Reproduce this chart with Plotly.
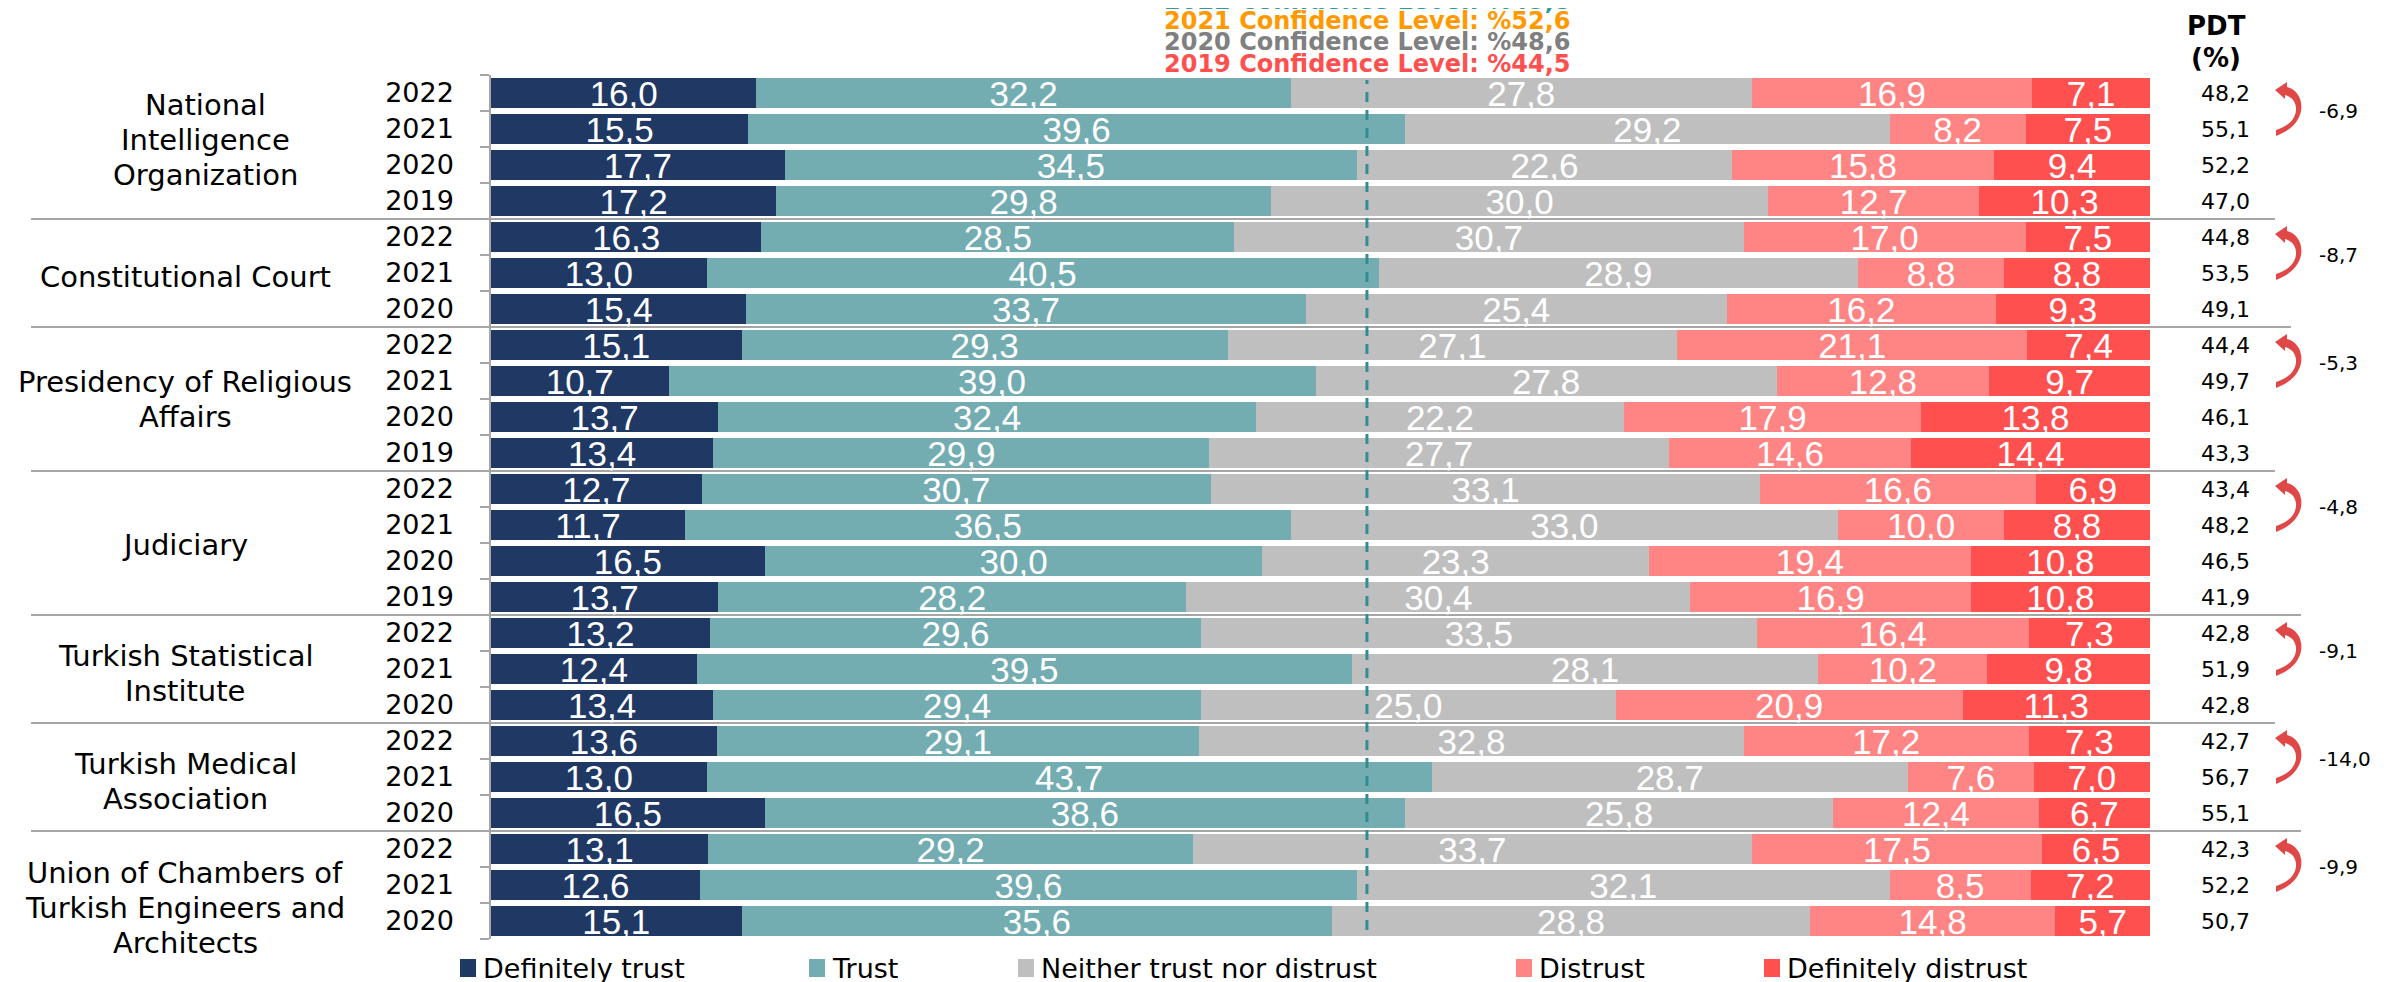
import plotly.graph_objects as go

# ---------------- data ----------------
institutions = [
    "National<br>Intelligence<br>Organization",
    "Constitutional Court",
    "Presidency of Religious<br>Affairs",
    "Judiciary",
    "Turkish Statistical<br>Institute",
    "Turkish Medical<br>Association",
    "Union of Chambers of<br>Turkish Engineers and<br>Architects",
]
years_by_institution = [
    ["2022", "2021", "2020", "2019"],
    ["2022", "2021", "2020"],
    ["2022", "2021", "2020", "2019"],
    ["2022", "2021", "2020", "2019"],
    ["2022", "2021", "2020"],
    ["2022", "2021", "2020"],
    ["2022", "2021", "2020"],
]
definitely_trust = [16.0, 15.5, 17.7, 17.2, 16.3, 13.0, 15.4, 15.1, 10.7, 13.7, 13.4,
                    12.7, 11.7, 16.5, 13.7, 13.2, 12.4, 13.4, 13.6, 13.0, 16.5, 13.1, 12.6, 15.1]
trust = [32.2, 39.6, 34.5, 29.8, 28.5, 40.5, 33.7, 29.3, 39.0, 32.4, 29.9,
         30.7, 36.5, 30.0, 28.2, 29.6, 39.5, 29.4, 29.1, 43.7, 38.6, 29.2, 39.6, 35.6]
neither = [27.8, 29.2, 22.6, 30.0, 30.7, 28.9, 25.4, 27.1, 27.8, 22.2, 27.7,
           33.1, 33.0, 23.3, 30.4, 33.5, 28.1, 25.0, 32.8, 28.7, 25.8, 33.7, 32.1, 28.8]
distrust = [16.9, 8.2, 15.8, 12.7, 17.0, 8.8, 16.2, 21.1, 12.8, 17.9, 14.6,
            16.6, 10.0, 19.4, 16.9, 16.4, 10.2, 20.9, 17.2, 7.6, 12.4, 17.5, 8.5, 14.8]
definitely_distrust = [7.1, 7.5, 9.4, 10.3, 7.5, 8.8, 9.3, 7.4, 9.7, 13.8, 14.4,
                       6.9, 8.8, 10.8, 10.8, 7.3, 9.8, 11.3, 7.3, 7.0, 6.7, 6.5, 7.2, 5.7]
series_names = ["Definitely trust", "Trust", "Neither trust nor distrust", "Distrust", "Definitely distrust"]
series_colors = ["#203864", "#73ADB1", "#BFBFBF", "#FF8585", "#FF5050"]
confidence_labels = [
    "2022 Confidence Level: %45,8",
    "2021 Confidence Level: %52,6",
    "2020 Confidence Level: %48,6",
    "2019 Confidence Level: %44,5",
]
confidence_colors = ["#319B9B", "#FF9900", "#808080", "#FF5050"]
confidence_line = 52.8

# ---------------- geometry helpers ----------------
W, H = 2399, 982
L, R, T, B = 483, 2142, 67, 931
ROW = (B - T) / 24.0


def px_x(px):
    return (px - L) / (R - L)


def px_y(py):
    return (B - py) / (B - T)


def fmt(v):
    return f"{v:.1f}".replace(".", ",")


FONT = "DejaVu Sans, Verdana, sans-serif"
BAR_FONT = "Liberation Sans, Arial, sans-serif"

years = [y for g in years_by_institution for y in g]
n = len(years)
rows = list(range(n))
series = [definitely_trust, trust, neither, distrust, definitely_distrust]

fig = go.Figure()
for name, vals, col in zip(series_names, series, series_colors):
    fig.add_trace(go.Bar(
        y=rows, x=vals, orientation="h", name=name,
        marker=dict(color=col, line=dict(width=0)),
        text=[fmt(v) for v in vals], textposition="inside",
        insidetextanchor="middle", constraintext="none", textangle=0,
        textfont=dict(family=BAR_FONT, size=35, color="white"),
        hoverinfo="skip", showlegend=False,
    ))

shapes = []
annotations = []

# group boundaries
starts = []
s = 0
for g in years_by_institution:
    starts.append(s)
    s += len(g)
boundaries = starts[1:]
right_ends = [2267, 2283, 2267, 2293, 2267, 2293]
for b, re_ in zip(boundaries, right_ends):
    yb = px_y(T + b * ROW)
    shapes.append(dict(type="line", xref="paper", yref="paper", x0=px_x(23), x1=px_x(re_),
                       y0=yb, y1=yb, line=dict(color="#A6A6A6", width=2), layer="below"))

# confidence dashed line
shapes.append(dict(type="line", xref="x", yref="paper", x0=confidence_line, x1=confidence_line,
                   y0=px_y(922), y1=px_y(72), line=dict(color="#338C91", width=3, dash="10px,8px"),
                   layer="above"))

# institution labels (one annotation per line, tight line spacing)
label_x = [197, 177, 177, 177, 177, 177, 177]
label_offset = [-7, 4, 0, 2, 4, 4, 23]
LINE = 35
for inst, st, g, lx, off in zip(institutions, starts, years_by_institution, label_x, label_offset):
    center_px = T + (st + len(g) / 2.0) * ROW + off
    lines = inst.split("<br>")
    m = len(lines)
    for k, ln in enumerate(lines):
        ypx = center_px + (k - (m - 1) / 2.0) * LINE
        annotations.append(dict(text=ln, xref="paper", yref="paper", x=px_x(lx), y=px_y(ypx),
                                xanchor="center", yanchor="middle", showarrow=False,
                                font=dict(family=FONT, size=29, color="black")))

# PDT values
pdt = [a + b for a, b in zip(definitely_trust, trust)]
for i, v in enumerate(pdt):
    annotations.append(dict(text=fmt(v), xref="paper", yref="y", x=px_x(2244), y=i,
                            xanchor="right", yanchor="middle", showarrow=False,
                            font=dict(family=FONT, size=22, color="black")))
for txt, hy in zip(["PDT", "(%)"], [18, 50]):
    annotations.append(dict(text=f"<b>{txt}</b>", xref="paper", yref="paper", x=px_x(2208),
                            y=px_y(hy), xanchor="center", yanchor="middle",
                            showarrow=False, font=dict(family=FONT, size=26, color="black")))

# change arrows 2021 -> 2022
for st in starts:
    change = pdt[st] - pdt[st + 1]
    yc0 = T + (st + 0.5) * ROW
    pts = [("M", [(2267, -3)]), ("L", [(2279, -11)]), ("L", [(2279, -6)]),
           ("C", [(2297, -2), (2303, 30), (2268, 43)]), ("L", [(2268, 37)]),
           ("C", [(2293, 30), (2293, 6), (2277, 2)]), ("L", [(2277, 6)])]
    path = ""
    for cmd, ps in pts:
        path += cmd + " ".join(f"{px_x(px):.5f},{px_y(yc0 + dy):.5f}" for px, dy in ps)
    path += "Z"
    shapes.append(dict(type="path", xref="paper", yref="paper", path=path,
                       fillcolor="#E04848", line=dict(width=0)))
    annotations.append(dict(text=fmt(change), xref="paper", yref="y", x=px_x(2309), y=st + 0.5,
                            xanchor="left", yanchor="middle", showarrow=False,
                            font=dict(family=FONT, size=20, color="black")))

# confidence level header
header_y = [-7, 13, 34, 56]
for txt, col, hy in zip(confidence_labels, confidence_colors, header_y):
    annotations.append(dict(text=f"<b>{txt}</b>", xref="x", yref="paper", x=confidence_line,
                            y=px_y(hy), xanchor="center", yanchor="middle", showarrow=False,
                            font=dict(family=FONT, size=24, color=col)))

# legend (manual)
legend_x = [452, 801, 1010, 1508, 1756]
for name, col, lx in zip(series_names, series_colors, legend_x):
    shapes.append(dict(type="rect", xref="paper", yref="paper", x0=px_x(lx), x1=px_x(lx + 16),
                       y0=px_y(969), y1=px_y(951), fillcolor=col, line=dict(width=0)))
    annotations.append(dict(text=name, xref="paper", yref="paper", x=px_x(lx + 21), y=px_y(960),
                            xanchor="left", yanchor="middle", showarrow=False,
                            font=dict(family=FONT, size=27, color="black")))

fig.update_layout(
    width=W, height=H, barmode="stack", bargap=0.14,
    margin=dict(l=L, r=W - R, t=T, b=H - B, pad=0),
    paper_bgcolor="white", plot_bgcolor="rgba(0,0,0,0)",
    xaxis=dict(range=[0, 100], visible=False, fixedrange=True),
    yaxis=dict(range=[n - 0.5, -0.5], tickmode="array", tickvals=rows, ticktext=years,
               ticks="", showgrid=False, zeroline=False, showline=True, linecolor="#A6A6A6",
               linewidth=1.5, ticklabelstandoff=30,
               tickfont=dict(family=FONT, size=27, color="black"),
               minor=dict(tickvals=[i - 0.5 for i in range(n + 1)], ticks="outside", ticklen=9,
                          tickcolor="#A6A6A6", tickwidth=1.5, showgrid=False)),
    shapes=shapes, annotations=annotations, showlegend=False,
)

fig.write_html("out.html")
